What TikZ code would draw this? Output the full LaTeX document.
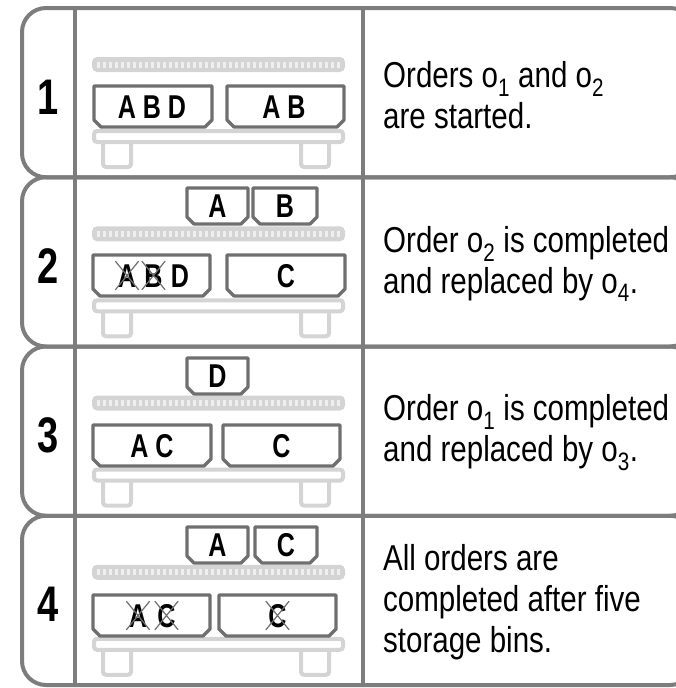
\documentclass[tikz,border=0pt]{standalone}
\usepackage{fontspec}
\setmainfont{Liberation Sans}[FakeStretch=0.82]
\newfontfamily\narrowfont{Liberation Sans}[FakeStretch=0.76]
\usetikzlibrary{shapes.misc}
\definecolor{framegray}{HTML}{7D7D7D}
\definecolor{bingray}{HTML}{6F6F6F}
\definecolor{shelfgray}{HTML}{D4D4D4}
\definecolor{railtick}{HTML}{EFEFEF}
\newcommand{\storagebin}[4]{\draw[binline] (#1,#3) -- (#2,#3) -- (#2,#4-7) -- (#2-7,#4) -- (#1+7,#4) -- (#1,#4-7) -- cycle;}
\newcommand{\ordno}[1]{o\textsubscript{#1}}

\begin{document}
\begin{tikzpicture}[x=1pt,y=-1pt,
  rowframe/.style={draw=framegray, line width=4pt, rounded corners=24pt},
  divider/.style={draw=framegray, line width=4pt},
  binline/.style={draw=bingray, fill=white, line width=3.4pt, line join=round},
  shelfline/.style={draw=shelfgray, line width=4pt, rounded corners=3pt},
  railticks/.style={draw=railtick, line width=6pt, dash pattern=on 2.6pt off 3.4pt},
  bintext/.style={font=\narrowfont\bfseries\fontsize{33}{33}\selectfont, text height=23.5pt, text depth=0pt, inner sep=2pt},
  struck/.style={bintext, cross out, draw=bingray, line width=1.2pt},
  stepnum/.style={font=\narrowfont\bfseries\fontsize{50}{50}\selectfont},
  desc/.style={anchor=west, align=left, inner sep=0pt, font=\fontsize{36}{41}\selectfont}]
\useasboundingbox (0,0) rectangle (676,688);
\foreach \rowtop in {8,177.25,346.5,515.75} {
  \draw[rowframe] (22,\rowtop) rectangle (694,\rowtop+169.25);
  \fill[shelfgray, rounded corners=5pt] (92,\rowtop+49) rectangle (345,\rowtop+64);
  \draw[railticks] (97,\rowtop+56.5) -- (340,\rowtop+56.5);
  \draw[shelfline] (103,\rowtop+134) -- (103,\rowtop+159) -- (131,\rowtop+159) -- (131,\rowtop+134);
  \draw[shelfline] (301,\rowtop+134) -- (301,\rowtop+159) -- (329,\rowtop+159) -- (329,\rowtop+134);
  \draw[shelfline, fill=white] (94,\rowtop+123) rectangle (343,\rowtop+134);
}
\draw[divider] (75,8) -- (75,685);
\draw[divider] (363,8) -- (363,685);

\storagebin{94}{212}{86}{127}
\storagebin{227}{344}{86}{127}
\node[bintext] (r1left) at (152,106.5) {A B D};
\node[bintext] (r1right) at (284,106.5) {A B};

\storagebin{187}{248}{188}{224}
\storagebin{253}{317}{188}{224}
\storagebin{93}{210}{255}{296}
\storagebin{227}{345}{255}{296}
\node[bintext] (r2upa) at (217.5,206) {A};
\node[bintext] (r2upb) at (285,206) {B};
\node[struck] (r2a) at (127,275.5) {A};
\node[struck] (r2b) at (153.5,275.5) {B};
\node[bintext] (r2d) at (180,275.5) {D};
\node[bintext] (r2right) at (286,275.5) {C};

\storagebin{187}{248}{358}{394}
\storagebin{93}{211}{425}{466}
\storagebin{223}{340}{425}{466}
\node[bintext] (r3upd) at (217.5,376) {D};
\node[bintext] (r3left) at (152,445.5) {A C};
\node[bintext] (r3right) at (281.5,445.5) {C};

\storagebin{187}{248}{527}{563}
\storagebin{255}{317}{527}{563}
\storagebin{93}{210}{595}{636}
\storagebin{219}{336}{595}{636}
\node[bintext] (r4upa) at (217.5,545) {A};
\node[bintext] (r4upc) at (286,545) {C};
\node[struck] (r4a) at (138,615.5) {A};
\node[struck] (r4c) at (166.5,615.5) {C};
\node[struck] (r4right) at (277.5,615.5) {C};

\node[stepnum] (num1) at (48,97) {1};
\node[stepnum] (num2) at (48,266) {2};
\node[stepnum] (num3) at (48,435) {3};
\node[stepnum] (num4) at (48,604) {4};

\node[desc] (txt1) at (383,95) {Orders \ordno{1} and \ordno{2}\\are started.};
\node[desc] (txt2) at (383,264) {Order \ordno{2} is completed\\and replaced by \ordno{4}.};
\node[desc] (txt3) at (383,433) {Order \ordno{1} is completed\\and replaced by \ordno{3}.};
\node[desc] (txt4) at (383,602) {All orders are\\completed after five\\storage bins.};
\end{tikzpicture}
\end{document}
